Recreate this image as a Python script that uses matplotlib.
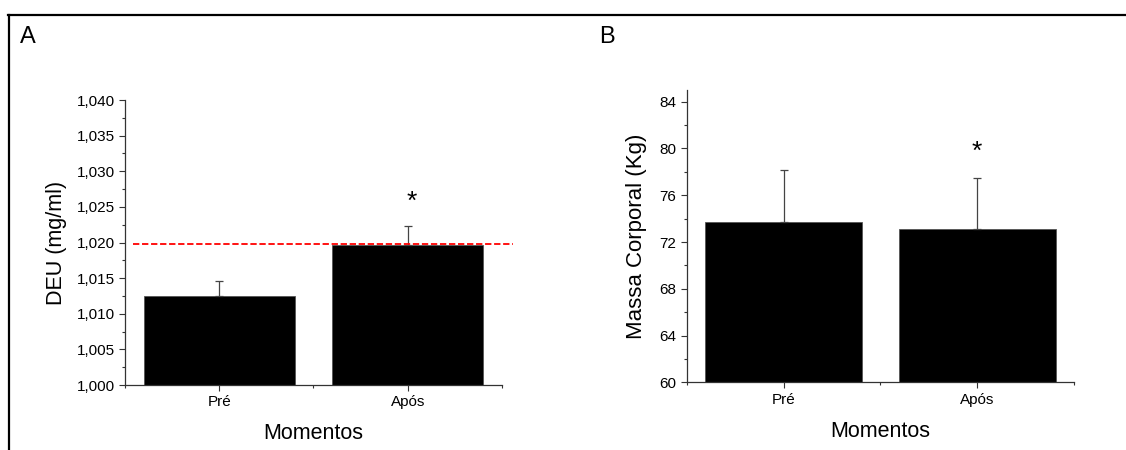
import numpy as np
import matplotlib
matplotlib.use("Agg")
import matplotlib.pyplot as plt
from matplotlib.lines import Line2D
from matplotlib.ticker import MultipleLocator, FuncFormatter

plt.rcParams['font.family'] = ['Liberation Sans', 'DejaVu Sans']

momentos = ['Pré', 'Após']
deu_media = [1.0125, 1.0197]
deu_dp = [0.0021, 0.0026]
deu_ref = 1.0198
massa_media = [73.7, 73.1]
massa_dp = [4.5, 4.4]

x = np.arange(1, len(momentos) + 1)
fig = plt.figure(figsize=(11.26, 4.5), dpi=100)

# moldura (topo e esquerda)
fig.add_artist(Line2D([0.007, 1.0], [0.9667, 0.9667], color='black', lw=1.6))
fig.add_artist(Line2D([0.008, 0.008], [0.0, 0.9667], color='black', lw=1.6))

def estilo(ax):
    for s in ['top', 'right']:
        ax.spines[s].set_visible(False)
    for s in ['left', 'bottom']:
        ax.spines[s].set_color('#333333')
        ax.spines[s].set_linewidth(0.9)
    ax.set_xlim(0.5, 2.5)
    ax.set_xticks(x)
    ax.set_xticklabels(momentos, fontsize=11)
    ax.xaxis.set_minor_locator(MultipleLocator(0.5))
    ax.tick_params(axis='both', which='major', direction='out', length=4, width=0.8, colors='#333333', labelcolor='black')
    ax.tick_params(axis='both', which='minor', direction='out', length=2.5, width=0.8, colors='#333333')
    ax.tick_params(axis='y', labelsize=11)
    ax.set_xlabel('Momentos', fontsize=15.5, labelpad=10)

# Painel A
ax1 = fig.add_axes([0.1110, 0.1444, 0.3348, 0.6333])
ax1.bar(x, deu_media, width=0.8, color='black', edgecolor='#555555', linewidth=0.6, bottom=0)
ax1.errorbar(x, deu_media, yerr=[[0, 0], deu_dp], fmt='none', ecolor='#444444', elinewidth=0.9, capsize=3, capthick=0.9)
ax1.set_ylim(1.000, 1.040)
ax1.yaxis.set_major_locator(MultipleLocator(0.005))
ax1.yaxis.set_minor_locator(MultipleLocator(0.0025))
ax1.yaxis.set_major_formatter(FuncFormatter(lambda v, p: f'{v:.3f}'.replace('.', ',')))
estilo(ax1)
ax1.set_ylabel('DEU (mg/ml)', fontsize=15.5, labelpad=7)
ax1.plot([0.543, 2.558], [deu_ref, deu_ref], color='red', ls='--', lw=1.3, dashes=(3.5, 1.5), clip_on=False, zorder=5)
ax1.text(2.02, 1.0257, '*', fontsize=19, ha='center', va='center')
fig.text(0.018, 0.905, 'A', fontsize=17)

# Painel B
ax2 = fig.add_axes([0.6101, 0.1504, 0.3437, 0.6496])
ax2.bar(x, massa_media, width=0.81, color='black', edgecolor='#555555', linewidth=0.6)
ax2.errorbar(x, massa_media, yerr=[[0, 0], massa_dp], fmt='none', ecolor='#444444', elinewidth=0.9, capsize=3, capthick=0.9)
ax2.set_ylim(60, 85)
ax2.yaxis.set_major_locator(MultipleLocator(4))
ax2.yaxis.set_minor_locator(MultipleLocator(2))
estilo(ax2)
ax2.set_ylabel('Massa Corporal (Kg)', fontsize=16, labelpad=9)
ax2.text(2.0, 79.7, '*', fontsize=19, ha='center', va='center')
fig.text(0.532, 0.905, 'B', fontsize=17)

fig.savefig('out.png', dpi=100)
